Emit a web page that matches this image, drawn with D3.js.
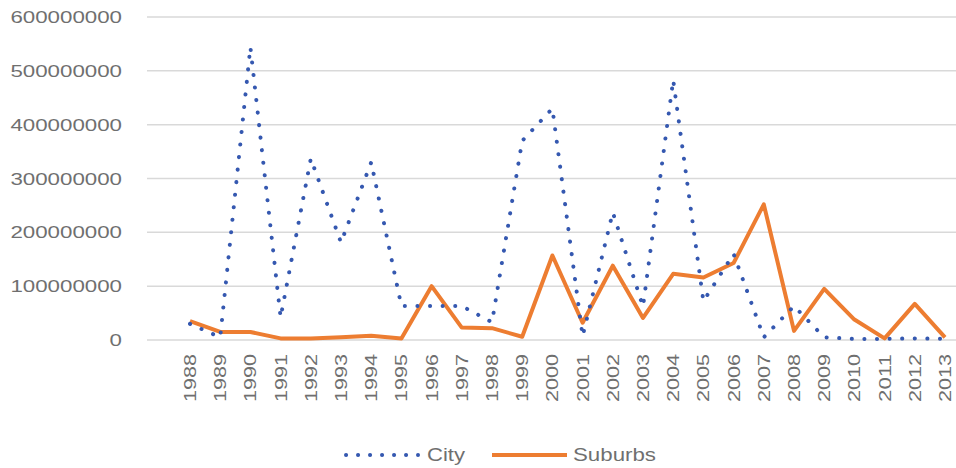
<!DOCTYPE html>
<html>
<head>
<meta charset="utf-8">
<script src="https://cdn.jsdelivr.net/npm/d3@7"></script>
<style>
  body { margin: 0; background: #fff; }
  text { font-family: "Liberation Sans", Arial, sans-serif; fill: #6f6f6f; }
</style>
</head>
<body>
<div id="chart"></div>
<script>
var width = 956,
    height = 468;

// chart data
var years = ["1988","1989","1990","1991","1992","1993","1994","1995","1996","1997","1998","1999","2000",
             "2001","2002","2003","2004","2005","2006","2007","2008","2009","2010","2011","2012","2013"];
var city = [30e6, 5e6, 544e6, 42e6, 337e6, 181e6, 330e6, 63e6, 63e6, 63e6, 33e6, 370e6, 430e6,
            7e6, 237e6, 62e6, 483e6, 72e6, 160e6, 5e6, 63e6, 5e6, 2e6, 2e6, 3e6, 2e6];
var suburbs = [35e6, 15e6, 15e6, 3e6, 3e6, 5e6, 8e6, 3e6, 100e6, 23e6, 22e6, 6e6, 157e6,
               32e6, 138e6, 41e6, 123e6, 116e6, 143e6, 252e6, 17e6, 95e6, 38e6, 3e6, 67e6, 5e6];
var yTicks = [0, 100000000, 200000000, 300000000, 400000000, 500000000, 600000000];
var seriesNames = ["City", "Suburbs"];

var plotLeft = 147, plotRight = 956;

var x = d3.scalePoint()
    .domain(years)
    .range([190, 945]);

var y = d3.scaleLinear()
    .domain([0, 600000000])
    .range([340, 17]);

var svg = d3.select("#chart").append("svg")
    .attr("width", width)
    .attr("height", height);

// gridlines
svg.append("g")
  .selectAll("line")
  .data(yTicks)
  .enter().append("line")
    .attr("x1", plotLeft)
    .attr("x2", plotRight)
    .attr("y1", d => y(d))
    .attr("y2", d => y(d))
    .style("stroke", "#d9d9d9")
    .style("stroke-width", 1.5);

// y axis labels
svg.append("g")
  .selectAll("text")
  .data(yTicks)
  .enter().append("text")
    .attr("x", 122)
    .attr("y", d => y(d))
    .attr("dy", "0.36em")
    .attr("text-anchor", "end")
    .attr("textLength", d => String(d).length * 12.4)
    .attr("lengthAdjust", "spacingAndGlyphs")
    .style("font-size", "17px")
    .text(d => String(d));

// x axis labels (rotated)
svg.append("g")
  .selectAll("text")
  .data(years)
  .enter().append("text")
    .attr("transform", d => "translate(" + (x(d) + 6) + ",354) rotate(-90)")
    .attr("text-anchor", "end")
    .attr("textLength", 48)
    .attr("lengthAdjust", "spacingAndGlyphs")
    .style("font-size", "16px")
    .text(d => d);

var line = d3.line()
    .x((d, i) => x(years[i]))
    .y(d => y(d));

// suburbs
svg.append("path")
    .datum(suburbs)
    .attr("d", line)
    .style("fill", "none")
    .style("stroke", "#ed7d31")
    .style("stroke-width", 4)
    .style("stroke-linejoin", "round");

// city (dotted)
svg.append("path")
    .datum(city)
    .attr("d", line)
    .style("fill", "none")
    .style("stroke", "#3558b0")
    .style("stroke-width", 4)
    .style("stroke-linecap", "round")
    .style("stroke-dasharray", "0.1 12.5")
    .style("stroke-linejoin", "round");

// legend
var legend = svg.append("g");
legend.append("line")
    .attr("x1", 346).attr("x2", 418)
    .attr("y1", 455).attr("y2", 455)
    .style("stroke", "#3558b0")
    .style("stroke-width", 4)
    .style("stroke-linecap", "round")
    .style("stroke-dasharray", "0.1 11.9");
legend.append("text")
    .attr("x", 427).attr("y", 455).attr("dy", "0.36em")
    .attr("textLength", 38)
    .attr("lengthAdjust", "spacingAndGlyphs")
    .style("font-size", "18px")
    .text(seriesNames[0]);
legend.append("line")
    .attr("x1", 492).attr("x2", 567)
    .attr("y1", 455).attr("y2", 455)
    .style("stroke", "#ed7d31")
    .style("stroke-width", 4);
legend.append("text")
    .attr("x", 573).attr("y", 455).attr("dy", "0.36em")
    .attr("textLength", 83)
    .attr("lengthAdjust", "spacingAndGlyphs")
    .style("font-size", "18px")
    .text(seriesNames[1]);
</script>
</body>
</html>
